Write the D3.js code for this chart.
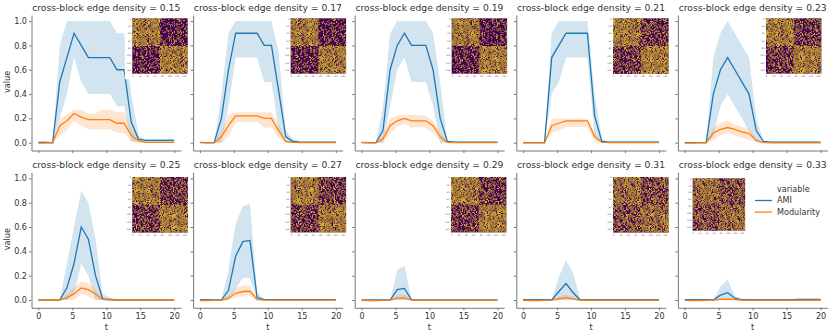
<!DOCTYPE html>
<html>
<head>
<meta charset="utf-8">
<script src="https://cdn.jsdelivr.net/npm/d3@7"></script>
<style>
body { margin: 0; background: #fff; }
svg { display: block; }
text { font-family: "DejaVu Sans", sans-serif; fill: #333; }
.axis path, .axis line { stroke: #777; }
.axis text { font-size: 8.1px; fill: #333; }
.inset path, .inset line { stroke: #888; stroke-width: 0.3; }
.inset text { font-size: 2.2px; fill: #555; }
</style>
</head>
<body>
<svg id="chart" width="830" height="334"></svg>
<script>
var densities = ['0.15', '0.17', '0.19', '0.21', '0.23', '0.25', '0.27', '0.29', '0.31', '0.33'];
var ts = [0, 1.05, 2.11, 3.16, 4.21, 5.26, 6.32, 7.37, 8.42, 9.47, 10.53, 11.58, 12.63, 13.68, 14.74, 15.79, 16.84, 17.89, 18.95, 20];
var xTicks = [0, 5, 10, 15, 20];
var yTicks = [0, 0.2, 0.4, 0.6, 0.8, 1];
var insetTicks = [0, 20, 40, 60, 80, 100, 120, 140];
var legendNames = ['AMI', 'Modularity'];

// AMI mean, lower and upper band per density
var ami15 = [.003, .003, 0, .5, .7, .9, .8, .7, .7, .7, .7, .6, .6, .17, .03, .02, .02, .02, .02, .02];
var ami15Lo = [0, 0, 0, .2, .4, .7, .5, .4, .4, .4, .4, .3, .3, .01, .01, .005, .005, .005, .005, .005];
var ami15Hi = [.01, .01, 0, .8, 1, 1, 1, 1, 1, 1, 1, .9, .9, .4, .06, .03, .03, .03, .03, .03];
var ami17 = [.003, 0, 0, .2, .6, .9, .9, .9, .9, .8, .8, .43, .05, .01, .005, .005, .005, .005, .005, .005];
var ami17Lo = [0, 0, 0, 0, .3, .7, .7, .7, .7, .5, .5, .1, 0, 0, 0, 0, 0, 0, 0, 0];
var ami17Hi = [.005, 0, 0, .4, .9, 1, 1, 1, 1, 1, 1, .75, .1, .03, .01, .01, .01, .01, .01, .01];
var ami19 = [.003, 0, 0, .1, .6, .8, .9, .8, .8, .8, .6, .2, .01, .005, .005, .005, .005, .005, .005, .005];
var ami19Lo = [0, 0, 0, 0, .3, .6, .7, .5, .5, .5, .3, 0, 0, 0, 0, 0, 0, 0, 0, 0];
var ami19Hi = [.005, 0, 0, .3, .9, 1, 1, 1, 1, 1, .9, .5, .02, .01, .01, .01, .01, .01, .01, .01];
var ami21 = [.001, 0, 0, 0, .7, .8, .9, .9, .9, .9, .22, .01, .005, .005, .005, .005, .005, .005, .005, .005];
var ami21Lo = [0, 0, 0, 0, .4, .5, .7, .7, .7, .7, .05, 0, 0, 0, 0, 0, 0, 0, 0, 0];
var ami21Hi = [.003, 0, 0, 0, .9, 1, 1, 1, 1, 1, .4, .03, .015, .015, .015, .015, .015, .015, .015, .015];
var ami23 = [.001, 0, 0, 0, .4, .6, .7, .6, .5, .4, .1, .01, .005, .005, .005, .005, .005, .005, .005, .005];
var ami23Lo = [0, 0, 0, 0, .05, .3, .4, .3, .2, .1, 0, 0, 0, 0, 0, 0, 0, 0, 0, 0];
var ami23Hi = [.003, 0, 0, 0, .7, .9, 1, .9, .8, .7, .2, .02, .012, .012, .012, .012, .012, .012, .012, .012];
var ami25 = [0, 0, 0, 0, .1, .3, .6, .5, .2, .01, .005, 0, 0, 0, 0, 0, 0, 0, 0, 0];
var ami25Lo = [0, 0, 0, 0, 0, .05, .3, .2, 0, 0, 0, 0, 0, 0, 0, 0, 0, 0, 0, 0];
var ami25Hi = [0, 0, 0, 0, .3, .6, .9, .8, .5, .05, .02, .005, 0, 0, 0, 0, 0, 0, 0, 0];
var ami27 = [.002, .002, 0, 0, .08, .36, .48, .49, .02, .003, .002, .002, .002, .002, .002, .002, .002, .002, .002, .002];
var ami27Lo = [0, 0, 0, 0, 0, .09, .18, .18, 0, 0, 0, 0, 0, 0, 0, 0, 0, 0, 0, 0];
var ami27Hi = [.003, .003, 0, 0, .25, .63, .77, .79, .06, .01, .004, .004, .004, .004, .004, .004, .004, .004, .004, .004];
var ami29 = [.001, .001, .001, .001, 0, .085, .095, 0, 0, 0, 0, .001, .001, .001, .001, .001, .001, .001, .001, .001];
var ami29Lo = [0, 0, 0, 0, 0, 0, 0, 0, 0, 0, 0, 0, 0, 0, 0, 0, 0, 0, 0, 0];
var ami29Hi = [.002, .002, .002, .002, 0, .25, .28, .01, .002, .002, .002, .002, .002, .002, .002, .002, .002, .002, .002, .002];
var ami31 = [.002, .002, .002, .002, 0, .07, .135, .06, 0, .002, .002, .002, .002, .002, .003, .003, .003, .003, .003, .003];
var ami31Lo = [0, 0, 0, 0, 0, 0, 0, 0, 0, 0, 0, 0, 0, 0, 0, 0, 0, 0, 0, 0];
var ami31Hi = [.004, .004, .004, .004, 0, .19, .33, .22, .01, .004, .004, .004, .004, .004, .006, .006, .006, .006, .006, .006];
var ami33 = [.004, .004, .004, .004, 0, .04, .06, .015, .002, .004, .004, .004, .004, .004, .004, .004, .005, .005, .005, .005];
var ami33Lo = [0, 0, 0, 0, 0, 0, 0, 0, 0, 0, 0, 0, 0, 0, 0, 0, 0, 0, 0, 0];
var ami33Hi = [.008, .008, .008, .008, 0, .11, .17, .03, .012, .008, .008, .008, .008, .008, .008, .008, .01, .01, .01, .01];

// Modularity mean, lower and upper band per density
var mod15 = [-.004, -.004, 0, .14, .18, .24, .21, .19, .19, .19, .19, .16, .16, .06, .015, .003, .003, .003, .003, .003];
var mod15Lo = [-.006, -.006, 0, .06, .1, .18, .14, .11, .11, .11, .11, .08, .08, .01, 0, 0, 0, 0, 0, 0];
var mod15Hi = [-.002, -.002, 0, .2, .23, .27, .27, .24, .24, .27, .27, .25, .25, .12, .03, .008, .008, .008, .008, .008];
var mod17 = [0, -.002, -.002, .05, .14, .22, .22, .22, .22, .2, .2, .1, .01, .003, .001, .001, .001, .001, .001, .001];
var mod17Lo = [-.002, -.004, -.004, 0, .05, .17, .17, .17, .17, .12, .13, .04, 0, 0, 0, 0, 0, 0, 0, 0];
var mod17Hi = [.002, 0, 0, .1, .23, .25, .25, .25, .25, .25, .25, .15, .02, .006, .003, .003, .003, .003, .003, .003];
var mod19 = [0, -.002, -.002, .03, .14, .18, .2, .18, .18, .18, .14, .05, .003, .001, .001, .001, .001, .001, .001, .001];
var mod19Lo = [-.002, -.004, -.004, 0, .08, .13, .16, .12, .13, .12, .08, .01, 0, 0, 0, 0, 0, 0, 0, 0];
var mod19Hi = [.002, 0, 0, .07, .2, .22, .23, .23, .23, .22, .18, .09, .008, .003, .003, .003, .003, .003, .003, .003];
var mod21 = [-.002, -.002, -.002, -.002, .14, .16, .18, .18, .18, .18, .05, .003, 0, 0, 0, 0, 0, 0, 0, 0];
var mod21Lo = [-.004, -.004, -.004, -.004, .08, .1, .13, .13, .13, .13, .01, 0, -.002, -.002, -.002, -.002, -.002, -.002, -.002, -.002];
var mod21Hi = [0, 0, 0, 0, .2, .2, .2, .2, .2, .2, .08, .008, .002, .002, .002, .002, .002, .002, .002, .002];
var mod23 = [-.004, -.003, -.002, -.002, .08, .11, .125, .11, .09, .075, .02, .001, -.001, -.001, -.001, -.001, -.001, -.001, -.001, -.001];
var mod23Lo = [-.007, -.005, -.004, -.004, .02, .06, .08, .06, .04, .02, .01, 0, -.003, -.003, -.003, -.003, -.003, -.003, -.003, -.003];
var mod23Hi = [-.001, -.001, 0, 0, .12, .16, .18, .15, .13, .12, .03, .003, .001, .001, .001, .001, .001, .001, .001, .001];
var mod25 = [0, 0, 0, 0, .02, .05, .1, .085, .05, .005, 0, 0, 0, 0, 0, 0, 0, 0, 0, 0];
var mod25Lo = [-.002, -.002, -.002, -.002, 0, 0, .05, .03, 0, 0, -.002, -.002, -.002, -.002, -.002, -.002, -.002, -.002, -.002, -.002];
var mod25Hi = [.002, .002, .002, .002, .05, .1, .15, .14, .09, .01, .002, .002, .002, .002, .002, .002, .002, .002, .002, .002];
var mod27 = [-.004, -.004, -.003, -.002, .015, .055, .07, .072, .003, -.001, -.001, -.001, -.001, -.001, -.001, -.001, -.001, -.001, -.001, -.001];
var mod27Lo = [-.006, -.006, -.005, -.004, 0, .02, .03, .03, 0, -.003, -.003, -.003, -.003, -.003, -.003, -.003, -.003, -.003, -.003, -.003];
var mod27Hi = [-.002, -.002, -.001, 0, .04, .1, .12, .12, .01, .001, .001, .001, .001, .001, .001, .001, .001, .001, .001, .001];
var mod29 = [-.002, -.004, -.004, -.003, -.001, .015, .018, -.001, -.002, -.002, -.002, -.002, -.002, -.002, -.002, -.002, -.002, -.002, -.002, -.002];
var mod29Lo = [-.004, -.006, -.006, -.005, -.003, 0, 0, -.003, -.004, -.004, -.004, -.004, -.004, -.004, -.004, -.004, -.004, -.004, -.004, -.004];
var mod29Hi = [0, -.002, -.002, -.001, .001, .04, .045, .001, 0, 0, 0, 0, 0, 0, 0, 0, 0, 0, 0, 0];
var mod31 = [-.003, -.004, -.004, -.003, -.001, .01, .02, .01, -.002, -.002, -.002, -.002, -.002, -.002, -.002, -.002, -.002, -.002, -.002, -.002];
var mod31Lo = [-.005, -.006, -.006, -.005, -.003, 0, 0, 0, -.004, -.004, -.004, -.004, -.004, -.004, -.004, -.004, -.004, -.004, -.004, -.004];
var mod31Hi = [-.001, -.002, -.002, -.001, .001, .03, .045, .03, 0, 0, 0, 0, 0, 0, 0, 0, 0, 0, 0, 0];
var mod33 = [-.003, -.004, -.004, -.003, -.001, .005, .007, .003, -.002, -.002, -.002, -.002, -.002, -.002, -.002, -.002, -.002, -.002, -.002, -.002];
var mod33Lo = [-.005, -.006, -.006, -.005, -.003, 0, 0, 0, -.004, -.004, -.004, -.004, -.004, -.004, -.004, -.004, -.004, -.004, -.004, -.004];
var mod33Hi = [-.001, -.002, -.002, -.001, .001, .015, .02, .01, 0, 0, 0, 0, 0, 0, 0, 0, 0, 0, 0, 0];

// inset adjacency matrix: share of edges inside a block, cross-block comes from the title
var withinDensity = [.68, .66, .66, .64, .64, .64, .62, .62, .6, .58];
var tileShift = [0, 7, 13, 19, 3, 23, 11, 29, 17, 31];
// grey levels 0-9, a hand typed stretch of noise that the insets look up
var noiseRows = [
	'3815046972183340265719988067251443097261',
	'7760291845527103948850716694125160739082',
	'1948072236481995703048102570361819857736',
	'5037719068305121946630572594683357294108',
	'8264430957649001526749731827049305182264',
	'0195268342997158602409215863740971186324',
	'6472915083647701598864720659836172901583',
	'2383460117298946071229834107472983860717',
	'9951702406135178940693017824569351082640',
	'4106629583070612258347961295234706625983',
	'1628354037762895003716589540971628150437',
	'7090346881159034228175303462017590942681',
	'3541872265904187096530918729153041379265',
	'8716507094221650439482065073848216903794',
	'5373240216097324581659232408765973604861',
	'0982691135548269973504126917050482297135',
	'6639075242113907884261090758926139478542',
	'2165418790876541039027254183502765948390',
	'9340263657184026815798002631079840731657',
	'4857189526035718302643971890664357119026',
	'1592753068709275846810127534981092373468',
	'7118340425261834692576783409057618804925',
	'3765907648826590214832159071983265497148',
	'8404126875390412137589541263258904716375',
	'5971638790047163329054216382405471868290',
	'0236295314573629081407862958640736125814',
	'6683702959118370745961337024096183572459',
	'2049816573754981107325998160232549686073',
	'9527463685402746818590774631359027143185',
	'4190351228969035672846403517784690031728',
	'1858274596635827909613082740461358224096',
	'7324190135282419563578741906857824410635',
	'3676508749817650324931265082993176558249',
	'8003927664350392216485539271148503797164',
	'5749063317024906881752990638675249103817',
	'0461734758596173925809117342080961874258',
	'6817842090131784759063678425406317982590',
	'2280159846778015434627301593962780019346',
	'9936528571443652307194865280219436758071',
	'4552971183905297668340029716334052291683'
];
var matrixCells = d3.range(60);

var panels = [
	{ami: ami15, amiLo: ami15Lo, amiHi: ami15Hi, mod: mod15, modLo: mod15Lo, modHi: mod15Hi},
	{ami: ami17, amiLo: ami17Lo, amiHi: ami17Hi, mod: mod17, modLo: mod17Lo, modHi: mod17Hi},
	{ami: ami19, amiLo: ami19Lo, amiHi: ami19Hi, mod: mod19, modLo: mod19Lo, modHi: mod19Hi},
	{ami: ami21, amiLo: ami21Lo, amiHi: ami21Hi, mod: mod21, modLo: mod21Lo, modHi: mod21Hi},
	{ami: ami23, amiLo: ami23Lo, amiHi: ami23Hi, mod: mod23, modLo: mod23Lo, modHi: mod23Hi},
	{ami: ami25, amiLo: ami25Lo, amiHi: ami25Hi, mod: mod25, modLo: mod25Lo, modHi: mod25Hi},
	{ami: ami27, amiLo: ami27Lo, amiHi: ami27Hi, mod: mod27, modLo: mod27Lo, modHi: mod27Hi},
	{ami: ami29, amiLo: ami29Lo, amiHi: ami29Hi, mod: mod29, modLo: mod29Lo, modHi: mod29Hi},
	{ami: ami31, amiLo: ami31Lo, amiHi: ami31Hi, mod: mod31, modLo: mod31Lo, modHi: mod31Hi},
	{ami: ami33, amiLo: ami33Lo, amiHi: ami33Hi, mod: mod33, modLo: mod33Lo, modHi: mod33Hi}
];

//- - - - - - - - - - - - - - - - - - - - - - - - - - - - - - - - - - - - - - -

var BLUE = '#1f77b4', ORANGE = '#ff7f0e', PURPLE = '#440154', YELLOW = '#e8cf2a';

var svg = d3.select('#chart');
var panelW = 149.5, panelH = 135.5;
var colX = [31.5, 193.1, 354.7, 516.3, 677.9];
var rowY = [15, 172.3];

// inset corner and size per panel
var insetX = [132.3, 290.7, 451.7, 613, 766, 132.3, 290.7, 451, 613, 692.7];
var insetTop = [18.3, 18.3, 18.3, 18.3, 18.3, 177, 177, 177, 177, 178.3];
var insetSize = [55.4, 55.4, 55.4, 55.6, 55.4, 55.6, 55.4, 55.4, 55.6, 52.4];

var x = d3.scaleLinear().domain([-1, 21]).range([0, panelW]);
var y = d3.scaleLinear().domain([-0.064, 1.05]).range([panelH, 0]);

var line = d3.line().x(function (d, i) { return x(ts[i]); }).y(function (d) { return y(d); });

function band(lo, hi)
{
	return d3.area()
		.x(function (d, i) { return x(ts[i]); })
		.y0(function (d, i) { return y(lo[i]); })
		.y1(function (d, i) { return y(hi[i]); })(ts);
}

//- - - - - - - - - - - - - - - - - - - - - - - - - - - - - - - - - - - - - - -

function drawInset(i)
{
	var size = insetSize[i],
		s = tileShift[i],
		cross = +densities[i],
		within = withinDensity[i],
		g = svg.append('g').attr('class', 'inset');

	var cell = d3.scaleBand().domain(matrixCells).range([0, size]);
	var m = d3.scaleLinear().domain([0, 150]).range([0, size]);

	g.attr('transform', 'translate(' + insetX[i] + ',' + insetTop[i] + ')');

	g.append('rect')
		.attr('x', -7.5).attr('y', -1.5)
		.attr('width', size + 8).attr('height', size + 7)
		.attr('fill', '#fff');
	g.append('rect')
		.attr('width', size).attr('height', size)
		.attr('fill', PURPLE);

	// only the filled cells need a rect, the purple square shows through
	var data = [];
	matrixCells.forEach(function (r) {
		matrixCells.forEach(function (c) {
			var row = noiseRows[(r * 7 + s) % 40],
				level = +row[(c * 11 + r * 17 + 3 * s) % 40] / 10,
				same = (r < 30) === (c < 30);
			if (level < (same ? within : cross))
				data.push({r: r, c: c});
		});
	});

	g.selectAll('rect.cell')
		.data(data)
		.enter()
		.append('rect')
		.attr('class', 'cell')
		.attr('x', function (d) { return cell(d.c); })
		.attr('y', function (d) { return cell(d.r); })
		.attr('width', cell.bandwidth())
		.attr('height', cell.bandwidth())
		.attr('fill', YELLOW)
	;

	g.append('g')
		.attr('transform', 'translate(0,' + size + ')')
		.call(d3.axisBottom(m).tickValues(insetTicks).tickSize(1).tickPadding(0.6).tickSizeOuter(0))
		.select('.domain').remove();
	g.append('g')
		.call(d3.axisLeft(m).tickValues(insetTicks).tickSize(1).tickPadding(0.6).tickSizeOuter(0))
		.select('.domain').remove();
}

//- - - - - - - - - - - - - - - - - - - - - - - - - - - - - - - - - - - - - - -

panels.forEach(function (p, i) {
	var col = i % 5,
		row = Math.floor(i / 5),
		g = svg.append('g').attr('transform', 'translate(' + colX[col] + ',' + rowY[row] + ')');

	g.append('path').attr('d', band(p.amiLo, p.amiHi)).attr('fill', BLUE).attr('opacity', 0.2);
	g.append('path').attr('d', line(p.ami)).attr('fill', 'none').attr('stroke', BLUE).attr('stroke-width', 1.3);
	g.append('path').attr('d', band(p.modLo, p.modHi)).attr('fill', ORANGE).attr('opacity', 0.2);
	g.append('path').attr('d', line(p.mod)).attr('fill', 'none').attr('stroke', ORANGE).attr('stroke-width', 1.3);

	var xAxis = d3.axisBottom(x).tickValues(xTicks).tickSize(2.5).tickPadding(3).tickSizeOuter(0);
	if (row == 0) xAxis.tickFormat('');
	var yAxis = d3.axisLeft(y).tickValues(yTicks).tickSize(2.5).tickPadding(2).tickSizeOuter(0)
		.tickFormat(col == 0 ? d3.format('.1f') : '');

	g.append('g').attr('class', 'axis').attr('transform', 'translate(0,' + panelH + ')').call(xAxis);
	g.append('g').attr('class', 'axis').call(yAxis);

	g.append('text')
		.attr('x', panelW / 2).attr('y', -4.5)
		.attr('text-anchor', 'middle')
		.attr('font-size', 9.2)
		.text('cross-block edge density = ' + densities[i]);

	if (row == 1)
		g.append('text')
			.attr('x', x(10)).attr('y', panelH + 22)
			.attr('text-anchor', 'middle').attr('font-size', 8.1)
			.text('t');

	if (col == 0)
		g.append('text')
			.attr('transform', 'translate(-22,' + y(0.5) + ') rotate(-90)')
			.attr('text-anchor', 'middle').attr('font-size', 8.1)
			.text('value');
});

// insets sit above every panel
panels.forEach(function (p, i) { drawInset(i); });

//- - - - - - - - - - - - - - - - - - - - - - - - - - - - - - - - - - - - - - -

var legend = svg.append('g').attr('transform', 'translate(755,189)');

legend.append('text').attr('x', 22).attr('y', 2.9).attr('font-size', 8.1).text('variable');

legendNames.forEach(function (name, i) {
	var ly = 11.5 + i * 11.6;
	legend.append('line')
		.attr('x1', 0).attr('x2', 17)
		.attr('y1', ly).attr('y2', ly)
		.attr('stroke', i == 0 ? BLUE : ORANGE)
		.attr('stroke-width', 1.3);
	legend.append('text')
		.attr('x', 22).attr('y', ly + 2.9)
		.attr('font-size', 8.1)
		.text(name);
});
</script>
</body>
</html>
